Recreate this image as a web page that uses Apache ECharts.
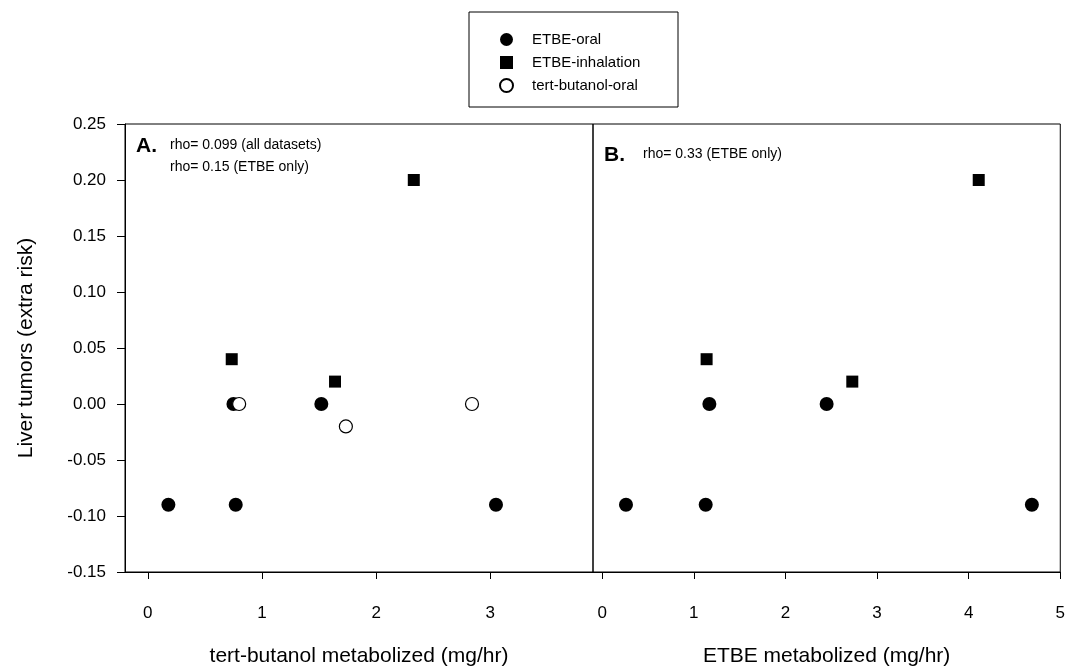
<!DOCTYPE html>
<html>
<head>
<meta charset="utf-8">
<script src="https://cdn.jsdelivr.net/npm/echarts@6/dist/echarts.min.js"></script>
<style>
  html, body { margin: 0; padding: 0; background: #fff; }
  #main { width: 1068px; height: 672px; }
</style>
</head>
<body>
<div id="main"></div>
<script>
// panel A: x = tert-butanol metabolized (mg/hr)
const etbeOralA = [[0.18, -0.09], [0.77, -0.09], [3.05, -0.09], [0.75, 0.0], [1.52, 0.0]]
const etbeInhA = [[0.735, 0.04], [1.64, 0.02], [2.33, 0.20]]
const tbaOralA = [[0.80, 0.0], [1.735, -0.02], [2.84, 0.0]]
// panel B: x = ETBE metabolized (mg/hr)
const etbeOralB = [[0.26, -0.09], [1.13, -0.09], [4.69, -0.09], [1.17, 0.0], [2.45, 0.0]]
const etbeInhB = [[1.14, 0.04], [2.73, 0.02], [4.11, 0.20]]

const ticksA = [0, 1, 2, 3]
const ticksB = [0, 1, 2, 3, 4, 5]

const font = 'Arial, "Liberation Sans", sans-serif'

const myChart = echarts.init(document.getElementById('main'))

// y-axis labels with two decimals
function fmtY(v) {
    if (Math.abs(v) < 1e-9) return '0.00'
    return v.toFixed(2)
}

function xAxisFor(idx, name, min, max, ticks) {
    return {
        type: 'value',
        gridIndex: idx,
        min: min,
        max: max,
        name: name,
        nameLocation: 'middle',
        nameGap: 74,
        nameTextStyle: { fontFamily: font, fontSize: 21, color: '#000' },
        splitLine: { show: false },
        axisLine: { show: true, onZero: false, lineStyle: { color: '#000', width: 1 } },
        axisTick: { show: true, inside: false, length: 7, customValues: ticks, lineStyle: { color: '#000' } },
        axisLabel: { customValues: ticks, margin: 33, fontFamily: font, fontSize: 17, color: '#000' }
    }
}

const markBlack = { color: '#000', opacity: 1 }
const markOpen = { color: '#fff', borderColor: '#000', borderWidth: 1.2, opacity: 1 }

myChart.setOption({
    animation: false,
    backgroundColor: '#fff',
    textStyle: { fontFamily: font },
    grid: [
        { left: 125, top: 124, width: 468, height: 459, show: true, borderColor: '#000', borderWidth: 1, backgroundColor: 'transparent' },
        { left: 593, top: 124, width: 468, height: 459, show: true, borderColor: '#000', borderWidth: 1, backgroundColor: 'transparent' }
    ],
    legend: {
        orient: 'vertical',
        left: 494,
        top: 27,
        itemWidth: 13,
        itemHeight: 13,
        itemGap: 8,
        data: ['ETBE-oral', 'ETBE-inhalation', 'tert-butanol-oral'],
        textStyle: { fontFamily: font, fontSize: 15, color: '#000', padding: [0, 0, 0, 14] }
    },
    graphic: [
        { type: 'rect', shape: { x: 469, y: 12, width: 209, height: 95 }, style: { fill: 'none', stroke: '#000', lineWidth: 1 } },
        { type: 'text', left: 136, top: 136, style: { text: 'A.', font: 'bold 21px ' + font, fill: '#000' } },
        { type: 'text', left: 170, top: 138, style: { text: 'rho= 0.099 (all datasets)', font: '14px ' + font, fill: '#000' } },
        { type: 'text', left: 170, top: 160, style: { text: 'rho= 0.15 (ETBE only)', font: '14px ' + font, fill: '#000' } },
        { type: 'text', left: 604, top: 145, style: { text: 'B.', font: 'bold 21px ' + font, fill: '#000' } },
        { type: 'text', left: 643, top: 147, style: { text: 'rho= 0.33 (ETBE only)', font: '14px ' + font, fill: '#000' } }
    ],
    xAxis: [
        xAxisFor(0, 'tert-butanol metabolized (mg/hr)', -0.2, 3.9, ticksA),
        xAxisFor(1, 'ETBE metabolized (mg/hr)', -0.1, 5, ticksB)
    ],
    yAxis: [
        {
            type: 'value',
            gridIndex: 0,
            min: -0.15,
            max: 0.25,
            interval: 0.05,
            name: 'Liver tumors (extra risk)',
            nameLocation: 'middle',
            nameGap: 88,
            nameTextStyle: { fontFamily: font, fontSize: 21, color: '#000' },
            splitLine: { show: false },
            axisLine: { show: true, onZero: false, lineStyle: { color: '#000' } },
            axisTick: { show: true, length: 8, lineStyle: { color: '#000' } },
            axisLabel: { margin: 19, fontFamily: font, fontSize: 17, color: '#000', formatter: fmtY }
        },
        {
            type: 'value',
            gridIndex: 1,
            min: -0.15,
            max: 0.25,
            interval: 0.05,
            splitLine: { show: false },
            axisLine: { show: false },
            axisTick: { show: false },
            axisLabel: { show: false }
        }
    ],
    series: [
        { name: 'ETBE-oral', type: 'scatter', xAxisIndex: 0, yAxisIndex: 0, symbol: 'circle', symbolSize: 14, itemStyle: markBlack, data: etbeOralA, z: 3 },
        { name: 'ETBE-inhalation', type: 'scatter', xAxisIndex: 0, yAxisIndex: 0, symbol: 'rect', symbolSize: 12, itemStyle: markBlack, data: etbeInhA },
        { name: 'tert-butanol-oral', type: 'scatter', xAxisIndex: 0, yAxisIndex: 0, symbol: 'circle', symbolSize: 13, itemStyle: markOpen, data: tbaOralA, z: 4 },
        { name: 'ETBE-oral', type: 'scatter', xAxisIndex: 1, yAxisIndex: 1, symbol: 'circle', symbolSize: 14, itemStyle: markBlack, data: etbeOralB },
        { name: 'ETBE-inhalation', type: 'scatter', xAxisIndex: 1, yAxisIndex: 1, symbol: 'rect', symbolSize: 12, itemStyle: markBlack, data: etbeInhB }
    ]
})
</script>
</body>
</html>
